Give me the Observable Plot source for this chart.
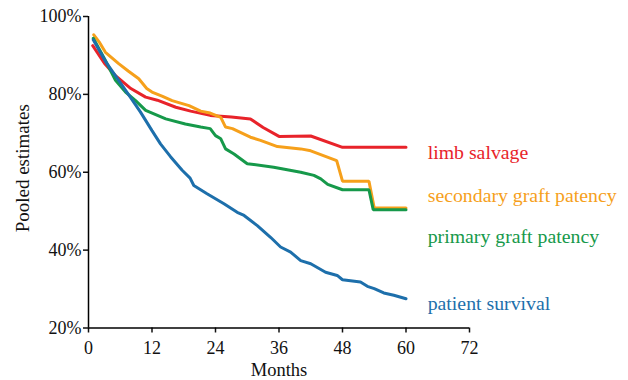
<!DOCTYPE html>
<html><head><meta charset="utf-8">
<script src="https://cdn.jsdelivr.net/npm/d3@7"></script>
<script src="https://cdn.jsdelivr.net/npm/@observablehq/plot@0.6"></script>
<style>body{margin:0;background:#fff}</style>
</head><body><div id="chart"></div>
<script>
const seriesNames = ["limb salvage", "secondary graft patency", "primary graft patency", "patient survival"];
const seriesColors = ["#e8232a", "#f6a01b", "#16994a", "#1d6fab"];

const limbMonths = [0.8, 3, 5.1, 8, 10.8, 13, 16.5, 19.3, 23, 27, 30.6, 33, 36, 42, 48, 60];
const limbValues = [92.5, 88, 84.8, 81.5, 79.3, 78.5, 76.7, 75.7, 74.6, 74.2, 73.7, 71.5, 69.2, 69.3, 66.4, 66.4];

const secMonths = [1, 2, 3.2, 5.7, 7.5, 9.5, 11, 12, 14, 15.8, 19, 21.2, 23, 25, 25.9, 27.2, 30.6, 32.5, 35.7, 40.1, 42, 46.9, 48, 53, 54, 60];
const secValues = [95.3, 93.5, 90.8, 87.9, 86, 84, 81.5, 80.6, 79.5, 78.4, 77.1, 75.7, 75.2, 74.1, 71.6, 71.2, 69, 68.2, 66.6, 66, 65.5, 63, 57.7, 57.7, 50.8, 50.8];

const priMonths = [0.9, 3.2, 5.1, 7, 8.9, 10.8, 14.6, 18.3, 21.2, 23, 24, 25, 25.9, 27.5, 30, 35, 40.1, 42.6, 43.9, 45.2, 48, 53, 53.8, 60];
const priValues = [94.4, 88.7, 83.6, 80.6, 78.4, 75.9, 73.7, 72.4, 71.6, 71.2, 69.4, 68.6, 66, 64.7, 62.2, 61.3, 60, 59.2, 58.3, 56.9, 55.5, 55.5, 50.4, 50.4];

const survMonths = [0.9, 3.2, 5.7, 7.9, 9.8, 12, 13.6, 15.5, 17.7, 19.2, 19.9, 22.4, 25.6, 28.1, 29.4, 31.9, 34.4, 36.3, 38.2, 40.1, 42, 44.8, 47, 48, 51.4, 52.7, 54, 55.8, 57.7, 60];
const survValues = [94, 88.5, 83.6, 79.3, 75.5, 70.7, 67.3, 64, 60.5, 58.5, 56.6, 54.5, 51.9, 49.7, 48.9, 46.3, 43.3, 40.8, 39.5, 37.3, 36.5, 34.3, 33.5, 32.4, 31.8, 30.7, 30.1, 29, 28.4, 27.5];

const xTicks = [0, 12, 24, 36, 48, 60, 72];
const yTicks = [20, 40, 60, 80, 100];
const xLabel = "Months";
const yLabel = "Pooled estimates";

const rows = [];
[[limbMonths, limbValues], [secMonths, secValues], [priMonths, priValues], [survMonths, survValues]].forEach(([ms, vs], i) => {
  ms.forEach((m, j) => rows.push({series: seriesNames[i], month: m, value: vs[j]}));
});

// label anchor positions (layout, in data units)
const labelLayout = [
  {name: seriesNames[0], x: 64.1, y: 65.1},
  {name: seriesNames[1], x: 64.1, y: 54.0},
  {name: seriesNames[2], x: 64.1, y: 43.5},
  {name: seriesNames[3], x: 64.1, y: 26.3}
];

const font = "'Liberation Serif', 'Times New Roman', serif";

const chart = Plot.plot({
  width: 628,
  height: 380,
  marginLeft: 88,
  marginRight: 159,
  marginTop: 16,
  marginBottom: 52.5,
  style: {fontFamily: font, fontSize: "17px", color: "#111", background: "#fff"},
  x: {domain: [0, 72], ticks: xTicks},
  y: {domain: [20, 100], ticks: yTicks},
  color: {domain: seriesNames, range: seriesColors},
  marks: [
    Plot.axisX({ticks: xTicks, tickSize: 5, tickPadding: 8, fontSize: 18, strokeWidth: 1.5, label: null}),
    Plot.axisY({ticks: yTicks, tickSize: 5, tickPadding: 2, fontSize: 18, strokeWidth: 1.5,
      tickFormat: d => d + "%", label: null}),
    Plot.text([xLabel], {frameAnchor: "bottom", dy: 42, lineAnchor: "middle", fontSize: 18.5, fill: "#111", fontFamily: font}),
    Plot.text([yLabel], {frameAnchor: "left", dx: -66, dy: -4, rotate: -90, textAnchor: "middle", lineAnchor: "middle", fontSize: 19, fill: "#111", fontFamily: font}),
    Plot.ruleX([0], {y1: 20, y2: 100, stroke: "#000", strokeWidth: 1.5}),
    Plot.ruleY([20], {x1: 0, x2: 72, stroke: "#000", strokeWidth: 1.5}),
    Plot.line(rows, {x: "month", y: "value", z: "series", stroke: "series", strokeWidth: 3, strokeLinejoin: "miter"}),
    Plot.text(labelLayout, {x: "x", y: "y", text: "name", fill: d => d.name, textAnchor: "start", fontSize: 19.8, fontFamily: font})
  ]
});
document.getElementById("chart").appendChild(chart);
</script>
</body></html>
